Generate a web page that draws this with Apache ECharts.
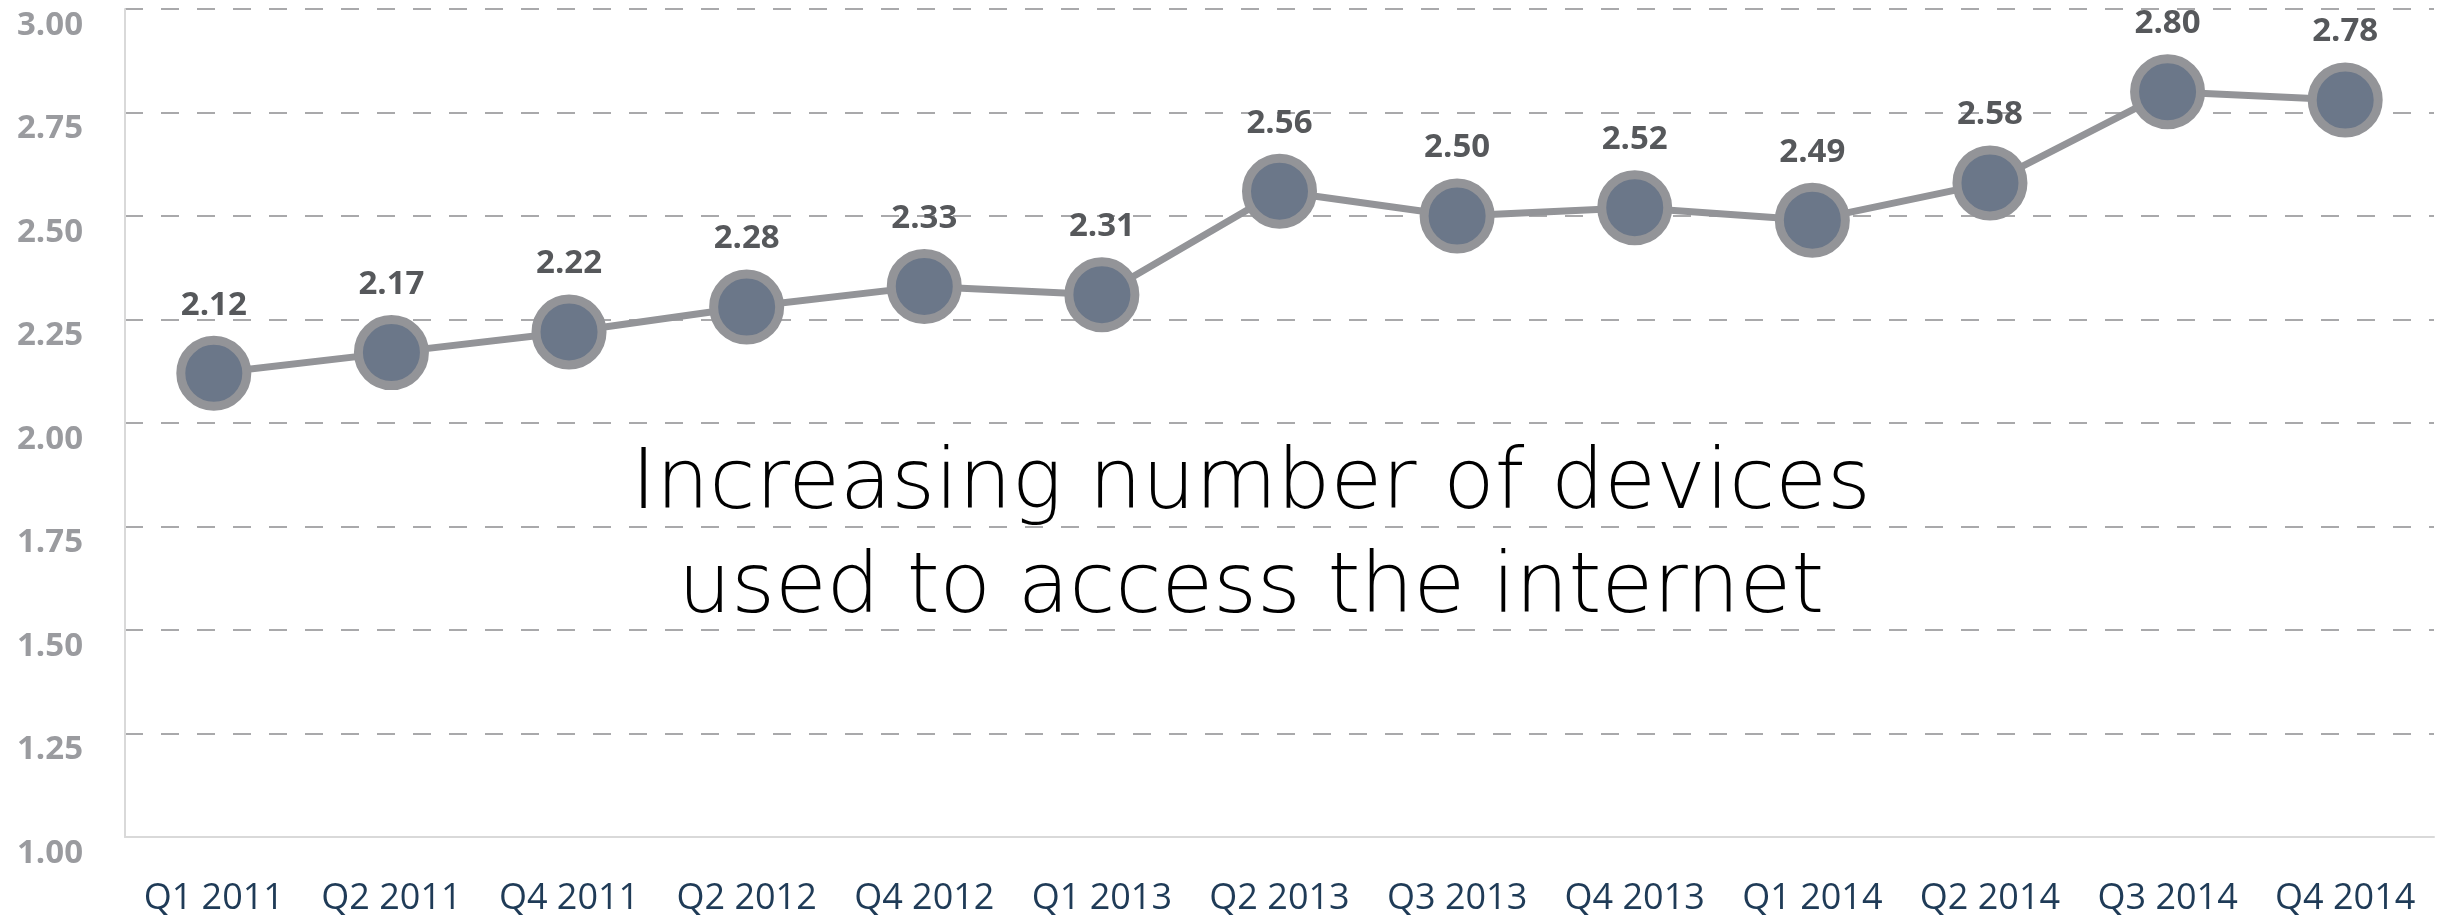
<!DOCTYPE html>
<html>
<head>
<meta charset="utf-8">
<script src="https://cdn.jsdelivr.net/npm/echarts@6/dist/echarts.min.js"></script>
<style>
html,body{margin:0;padding:0;background:#fff;}
#chart{width:2453px;height:916px;}
</style>
</head>
<body>
<div id="chart"></div>
<script>
const categories = ['Q1 2011','Q2 2011','Q4 2011','Q2 2012','Q4 2012','Q1 2013','Q2 2013','Q3 2013','Q4 2013','Q1 2014','Q2 2014','Q3 2014','Q4 2014'];
const devices = [2.12, 2.17, 2.22, 2.28, 2.33, 2.31, 2.56, 2.50, 2.52, 2.49, 2.58, 2.80, 2.78];
const yMin = 1.00, yMax = 3.00, yStep = 0.25;
const annotation = ['Increasing number of devices', 'used to access the internet'];

const chart = echarts.init(document.getElementById('chart'));
chart.setOption({
  animation: false,
  backgroundColor: '#ffffff',
  grid: { left: 125, right: 19, top: 9, bottom: 79, containLabel: false, outerBoundsMode: 'none' },
  xAxis: {
    type: 'category',
    data: categories,
    boundaryGap: true,
    axisLine: { show: true, lineStyle: { color: '#d9d9d9', width: 2 } },
    axisTick: { show: false },
    axisLabel: {
      margin: 44,
      color: '#1f3b57',
      fontFamily: "'Open Sans', sans-serif",
      fontSize: 36,
      interval: 0
    },
    splitLine: { show: false }
  },
  yAxis: {
    type: 'value',
    min: yMin, max: yMax, interval: yStep,
    axisLine: { show: true, lineStyle: { color: '#d9d9d9', width: 2 } },
    axisTick: { show: false },
    axisLabel: {
      margin: 42,
      color: '#9a9b9f',
      fontFamily: "'Open Sans', sans-serif",
      fontWeight: 'bold',
      fontSize: 33,
      verticalAlign: 'top',
      lineHeight: 33,
      formatter: v => v.toFixed(2)
    },
    splitLine: { show: true, lineStyle: { color: '#a9a9ab', width: 2, type: [18, 18] } }
  },
  graphic: [{
    type: 'text',
    x: 1251,
    y: 434,
    style: {
      text: annotation.join('\n'),
      font: "200 84px 'DejaVu Sans', sans-serif",
      fill: '#000000',
      align: 'center',
      verticalAlign: 'top',
      lineHeight: 104
    }
  }],
  series: [{
    type: 'line',
    data: devices,
    symbol: 'circle',
    symbolSize: 66,
    lineStyle: { color: '#939498', width: 7 },
    itemStyle: { color: '#6b7789', borderColor: '#939498', borderWidth: 9 },
    label: {
      show: true,
      position: 'top',
      distance: 14,
      color: '#56585b',
      fontFamily: "'Open Sans', sans-serif",
      fontWeight: 'bold',
      fontSize: 33,
      formatter: p => p.value.toFixed(2)
    },
    z: 3
  }]
});
</script>
</body>
</html>
